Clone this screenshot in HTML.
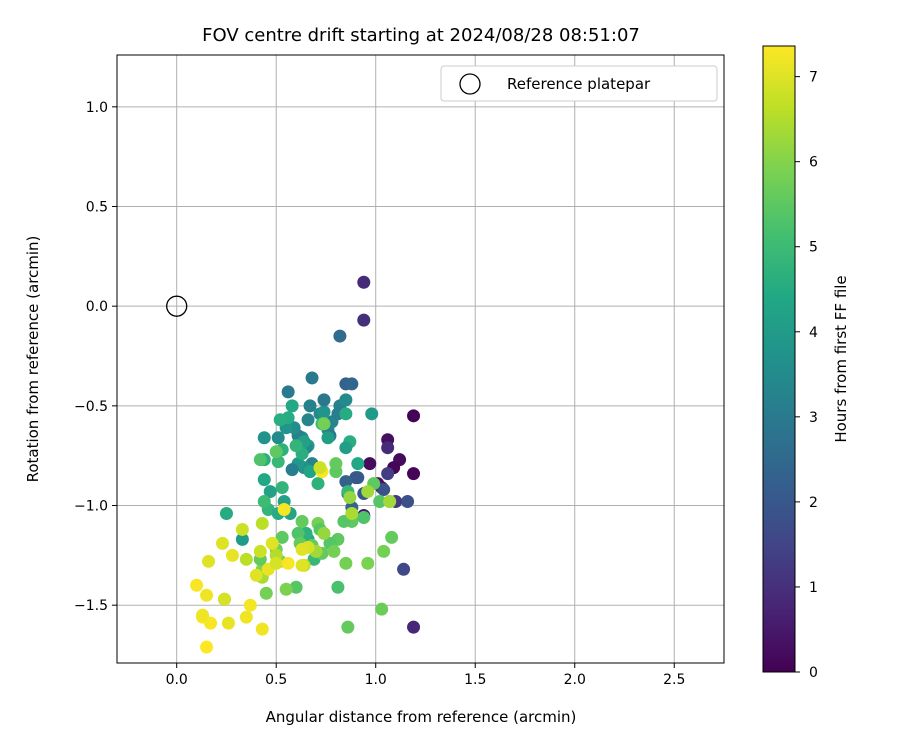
<!DOCTYPE html>
<html><head><meta charset="utf-8"><style>
html,body{margin:0;padding:0;background:#fff;}
svg{display:block;font-family:"DejaVu Sans","Liberation Sans",sans-serif;}
</style></head><body>
<svg id="chart" width="900" height="750" viewBox="0 0 900 750">
<defs>
<linearGradient id="vir" x1="0" y1="1" x2="0" y2="0">
<stop offset="0" stop-color="#440154"/><stop offset="0.1" stop-color="#482475"/><stop offset="0.2" stop-color="#414487"/><stop offset="0.3" stop-color="#355f8d"/><stop offset="0.4" stop-color="#2a788e"/><stop offset="0.5" stop-color="#21918c"/><stop offset="0.6" stop-color="#22a884"/><stop offset="0.7" stop-color="#44bf70"/><stop offset="0.8" stop-color="#7ad151"/><stop offset="0.9" stop-color="#bddf26"/><stop offset="1" stop-color="#fde725"/>
</linearGradient>
<clipPath id="clip"><rect x="117" y="55" width="607" height="608"/></clipPath>
</defs>
<text x="421" y="41" font-size="18" text-anchor="middle">FOV centre drift starting at 2024/08/28 08:51:07</text>
<g id="grid"></g>
<g id="points" clip-path="url(#clip)"></g>
<rect x="117" y="55" width="607" height="608" fill="none" stroke="#000" stroke-width="1"/>
<g id="ticks"></g>
<text x="421" y="722" font-size="15" text-anchor="middle">Angular distance from reference (arcmin)</text>
<text transform="translate(38,359) rotate(-90)" font-size="15" text-anchor="middle">Rotation from reference (arcmin)</text>
<g>
<rect x="441" y="66" width="276" height="35" rx="3" fill="#fff" stroke="#ccc"/>
<circle cx="470" cy="84" r="10" fill="none" stroke="#000" stroke-width="1.3"/>
<text x="507" y="89" font-size="15">Reference platepar</text>
</g>
<rect x="763" y="46" width="32" height="626" fill="url(#vir)" stroke="#000" stroke-width="1"/>
<g id="cbticks"></g>
<text transform="translate(846,359) rotate(-90)" font-size="15" text-anchor="middle">Hours from first FF file</text>
</svg>
<script>
const xTicks=[0,0.5,1,1.5,2,2.5];
const yTicks=[1,0.5,0,-0.5,-1,-1.5];
const cbTicks=[0,1,2,3,4,5,6,7];
const xs=[0.94,0.94,1.19,1.19,1.19,1.14,1.06,1.06,1.12,1.09,0.97,1.01,1.03,1.10,1.16,0.94,0.87,1.06,0.91,
0.82,0.85,0.88,0.90,0.85,0.86,0.94,1.04,0.88,
0.68,0.82,0.78,0.76,0.67,0.72,0.77,0.74,0.66,0.63,0.61,0.66,0.59,0.55,0.51,0.44,0.65,0.68,0.64,0.61,0.58,0.56,0.85,0.74,0.81,
0.56,0.52,0.58,0.64,0.53,0.51,0.44,0.44,0.47,0.46,0.51,0.54,0.53,0.44,0.57,0.73,0.76,0.63,0.60,0.67,0.71,0.85,0.87,0.91,0.98,0.66,0.81,0.33,0.25,0.86,0.85,0.65,0.69,
0.86,1.03,0.81,0.88,0.94,1.04,1.08,0.96,1.02,0.99,1.07,0.84,0.63,0.71,0.72,0.68,0.77,0.61,0.73,0.79,0.70,0.62,0.53,0.50,0.52,0.60,0.55,0.43,0.24,0.45,0.42,0.85,0.80,0.80,0.74,0.50,0.42,
0.50,0.43,0.70,0.74,0.64,0.87,0.96,0.88,0.43,0.33,0.35,0.42,0.66,1.07,
0.10,0.13,0.15,0.17,0.13,0.15,0.16,0.23,0.24,0.26,0.28,0.35,0.37,0.40,0.43,0.46,0.48,0.50,0.56,0.63,0.63,0.54,0.73,0.72];
const ys=[0.12,-0.07,-0.55,-0.84,-1.61,-1.32,-0.67,-0.71,-0.77,-0.81,-0.79,-0.89,-0.91,-0.98,-0.98,-1.05,-1.07,-0.84,-0.86,
-0.15,-0.39,-0.39,-0.86,-0.88,-0.94,-0.94,-0.92,-1.01,
-0.36,-0.50,-0.58,-0.62,-0.50,-0.54,-0.65,-0.53,-0.57,-0.66,-0.65,-0.70,-0.61,-0.61,-0.66,-0.66,-0.71,-0.79,-0.81,-0.79,-0.82,-0.43,-0.47,-0.47,-0.54,
-0.56,-0.57,-0.50,-0.68,-0.72,-0.78,-0.77,-0.87,-0.93,-1.02,-1.04,-0.98,-0.91,-0.98,-1.04,-0.59,-0.66,-0.74,-0.70,-0.83,-0.89,-0.54,-0.68,-0.79,-0.54,-1.17,-1.41,-1.17,-1.04,-0.93,-0.71,-1.14,-1.27,
-1.61,-1.52,-1.17,-1.08,-1.06,-1.23,-1.16,-1.29,-0.98,-0.89,-0.98,-1.08,-1.08,-1.09,-1.12,-1.20,-1.19,-1.14,-1.24,-1.23,-1.23,-1.19,-1.16,-1.22,-1.28,-1.41,-1.42,-1.32,-1.47,-1.44,-1.27,-1.29,-0.83,-0.79,-0.59,-0.73,-0.77,
-1.25,-1.36,-1.23,-1.14,-1.30,-0.96,-0.93,-1.04,-1.09,-1.12,-1.27,-1.23,-1.21,-0.98,
-1.40,-1.56,-1.45,-1.59,-1.55,-1.71,-1.28,-1.19,-1.47,-1.59,-1.25,-1.56,-1.50,-1.35,-1.62,-1.32,-1.19,-1.29,-1.29,-1.22,-1.30,-1.02,-0.83,-0.81];
const hours=[0.9,1.0,0.05,0.1,0.8,1.6,0.3,0.9,0.2,0.1,0.2,0.3,0.4,1.2,1.8,0.5,1.5,1.3,2.2,
2.6,2.3,2.4,2.0,2.3,2.2,2.0,1.9,2.4,
3.0,3.2,3.3,3.4,3.2,3.5,3.0,3.8,3.3,3.6,3.2,3.9,3.6,3.8,3.5,3.7,3.5,3.3,3.7,3.9,3.1,3.0,3.5,2.9,3.1,
4.5,4.6,4.4,4.2,4.7,4.9,4.6,4.4,4.2,4.8,4.5,4.2,4.8,5.0,4.3,4.9,4.1,4.6,4.8,4.3,4.7,4.5,4.6,4.4,4.0,4.4,5.2,4.0,4.5,4.9,4.1,4.7,4.9,
5.6,5.7,5.5,5.5,5.3,5.8,5.6,5.9,5.4,5.5,6.0,5.4,5.6,5.8,5.4,5.6,5.4,5.3,5.6,5.8,5.5,5.6,5.5,5.8,5.7,5.4,5.9,6.0,5.9,5.8,5.6,5.8,5.5,5.6,5.8,5.5,5.3,
6.5,6.4,6.3,6.2,6.6,6.2,6.3,6.4,6.6,6.8,6.6,6.8,6.9,6.3,
7.3,7.3,7.2,7.3,7.2,7.35,7.0,7.0,6.9,7.1,7.1,7.2,7.25,7.0,7.2,7.1,7.0,6.9,7.3,7.0,7.0,7.3,7.3,6.8];
const refPoint=[0,0];
const X0=-0.30,X1=2.75,Y0=-1.79,Y1=1.26,L=117,R=724,T=55,B=663,HMAX=7.36;
const sx=v=>L+(v-X0)/(X1-X0)*(R-L);
const sy=v=>B-(v-Y0)/(Y1-Y0)*(B-T);
const cy=h=>672-h/HMAX*626;
const stops=["#440154","#482475","#414487","#355f8d","#2a788e","#21918c","#22a884","#44bf70","#7ad151","#bddf26","#fde725"];
function hex(c){return [1,3,5].map(i=>parseInt(c.substr(i,2),16));}
function vir(t){t=Math.max(0,Math.min(1,t))*10;const i=Math.min(9,Math.floor(t)),f=t-i;const a=hex(stops[i]),b=hex(stops[i+1]);return "rgb("+a.map((v,k)=>Math.round(v+(b[k]-v)*f)).join(",")+")";}
const NS="http://www.w3.org/2000/svg";
function mk(tag,attrs,parent,text){const e=document.createElementNS(NS,tag);for(const k in attrs)e.setAttribute(k,attrs[k]);if(text!==undefined)e.textContent=text;parent.appendChild(e);return e;}
const grid=document.getElementById('grid'),ticks=document.getElementById('ticks'),pts=document.getElementById('points'),cbt=document.getElementById('cbticks');
xTicks.forEach(v=>{
 const g=mk('line',{x1:sx(v),x2:sx(v),y1:T,y2:B,stroke:'#b0b0b0','stroke-width':1},grid);
 
 
 const t=mk('line',{x1:sx(v),x2:sx(v),y1:B,y2:B+5,stroke:'#000'},ticks);
 
 
 const l=mk('text',{x:sx(v),y:B+21,'font-size':14,'text-anchor':'middle'},ticks,v.toFixed(1));
 
 
});
yTicks.forEach(v=>{
 const g=mk('line',{x1:L,x2:R,y1:sy(v),y2:sy(v),stroke:'#b0b0b0','stroke-width':1},grid);
 
 
 const t=mk('line',{x1:L-5,x2:L,y1:sy(v),y2:sy(v),stroke:'#000'},ticks);
 
 
 const l=mk('text',{x:L-9,y:sy(v)+5,'font-size':14,'text-anchor':'end'},ticks,v.toFixed(1).replace('-','\u2212'));
 
 
});
xs.forEach((v,i)=>{
 const c=mk('circle',{cx:sx(v),cy:sy(ys[i]),r:6.5,fill:vir(hours[i]/HMAX)},pts);
 
 
});
const rp=mk('circle',{cx:sx(refPoint[0]),cy:sy(refPoint[1]),r:10,fill:'none',stroke:'#000','stroke-width':1.3},pts);


cbTicks.forEach(v=>{
 const t=mk('line',{x1:795,x2:800,y1:cy(v),y2:cy(v),stroke:'#000'},cbt);
 
 
 const l=mk('text',{x:809,y:cy(v)+5,'font-size':14},cbt,String(v));
 
 
});
</script>
</body></html>
